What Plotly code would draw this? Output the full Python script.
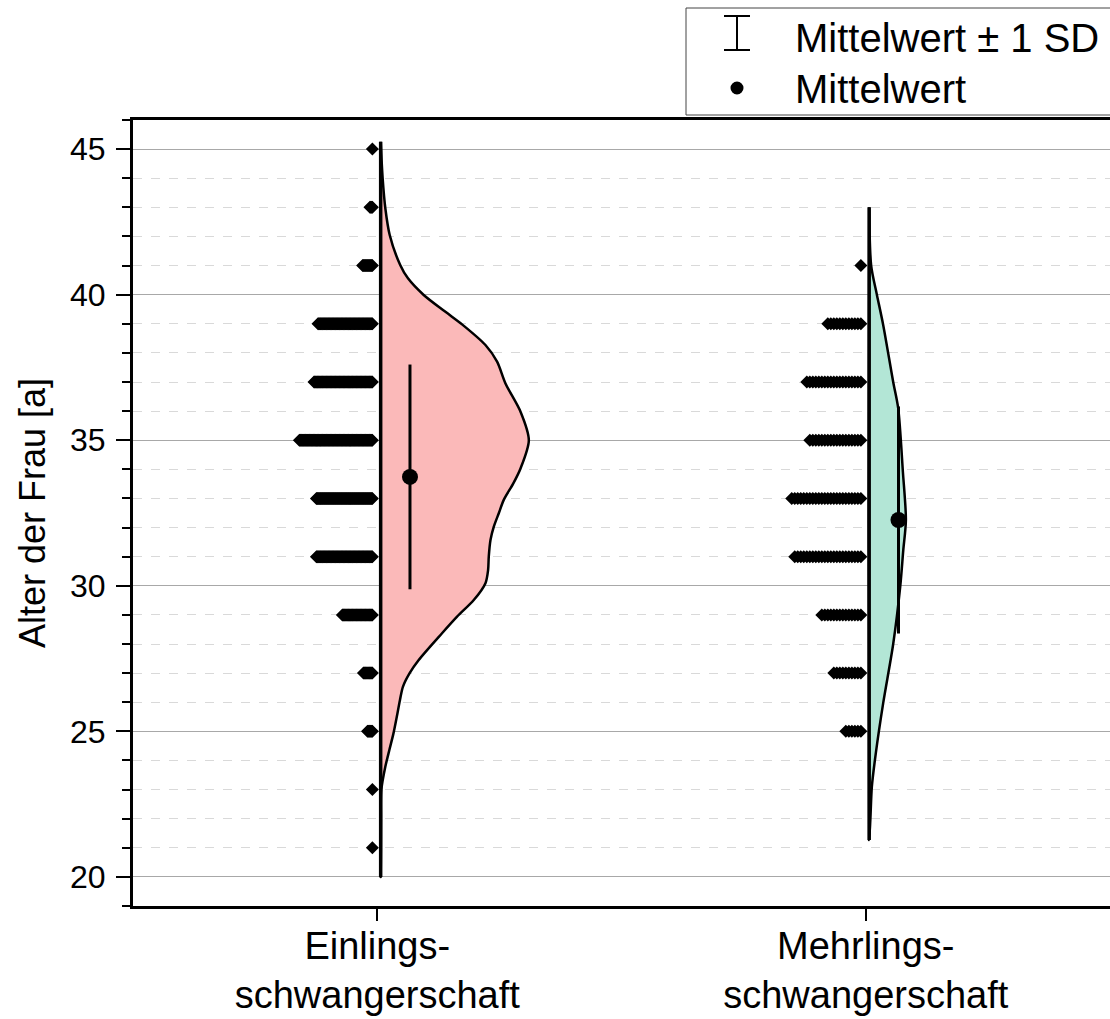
import plotly.graph_objects as go

# ---------------- data ----------------
categories = ["Einlings-<br>schwangerschaft", "Mehrlings-<br>schwangerschaft"]
cat_pos = [0, 1]

dot_ages = [21, 23, 25, 27, 29, 31, 33, 35, 37, 39, 41, 43, 45]
einlings_counts = [1, 1, 7, 12, 38, 70, 70, 91, 73, 68, 13, 4, 1]
mehrlings_counts = [0, 0, 6, 10, 14, 23, 24, 18, 19, 12, 1, 0, 0]

means = [33.74, 32.26]
sds = [3.86, 3.90]

# half-violin density profiles (half width in category units)
einlings_kde_age = [20.0, 21.0, 22.0, 22.99, 23.79, 24.36, 24.93, 25.5, 26.08, 26.53, 26.99,
                    27.45, 28.37, 28.94, 29.51, 30.09, 30.54, 31.0, 31.57, 32.03, 32.49,
                    32.95, 33.5, 34.03, 35.0, 35.98, 36.95, 37.7, 38.27, 38.98, 39.41,
                    39.99, 40.56, 41.02, 42.05, 42.96, 43.99, 45.25]
einlings_kde_w = [0.0, 0.0006, 0.0008, 0.0014, 0.0096, 0.0178, 0.0262, 0.0330, 0.0395, 0.0455,
                  0.0590, 0.0779, 0.1256, 0.1564, 0.1906, 0.2145, 0.2199, 0.2213, 0.2248,
                  0.2316, 0.2418, 0.2520, 0.2710, 0.2863, 0.3033, 0.2863, 0.2555, 0.2383,
                  0.2145, 0.1666, 0.1326, 0.0881, 0.0559, 0.0400, 0.0185, 0.0096, 0.0041, 0.0]

mehrlings_kde_age = [21.27, 22.0, 23.1, 24.26, 25.97, 28.0, 29.96, 31.2, 32.26, 33.9,
                     36.1, 37.0, 38.96, 40.0, 41.0, 43.0]
mehrlings_kde_w = [0.0, 0.0025, 0.0055, 0.0137, 0.0287, 0.0492, 0.0635, 0.0697, 0.0752,
                   0.0691, 0.0594, 0.0492, 0.0287, 0.0158, 0.0041, 0.0]

fill_colors = ["#FBB9B9", "#B3E6D6"]

# ---------------- style constants ----------------
FONT = "Liberation Sans, Arial, sans-serif"
violin_base_off = 0.007
dot_start_off = -0.010
dot_steps = [0.00166, 0.00615]
err_off = 0.067

fig = go.Figure()

# half violins
for c, ages, ws, col in [(cat_pos[0], einlings_kde_age, einlings_kde_w, fill_colors[0]),
                         (cat_pos[1], mehrlings_kde_age, mehrlings_kde_w, fill_colors[1])]:
    base = c + violin_base_off
    xs = [base + w for w in ws] + [base, base]
    ys = list(ages) + [ages[-1], ages[0]]
    fig.add_trace(go.Scatter(
        x=xs, y=ys, mode="lines", fill="toself", fillcolor=col,
        line=dict(color="black", width=2.5, shape="spline", smoothing=0.8),
        hoverinfo="skip", showlegend=False))
    fig.add_trace(go.Scatter(
        x=[base, base], y=[ages[0], ages[-1]], mode="lines",
        line=dict(color="black", width=3.5), hoverinfo="skip", showlegend=False))

# stacked dot rows
for c, counts, step in [(cat_pos[0], einlings_counts, dot_steps[0]),
                        (cat_pos[1], mehrlings_counts, dot_steps[1])]:
    dx, dy = [], []
    for age, n in zip(dot_ages, counts):
        for k in range(n):
            dx.append(c + dot_start_off - k * step)
            dy.append(age)
    fig.add_trace(go.Scatter(
        x=dx, y=dy, mode="markers",
        marker=dict(symbol="diamond", size=10, color="black", line=dict(width=0)),
        hoverinfo="skip", showlegend=False))

# mean +/- SD
fig.add_trace(go.Scatter(
    x=[c + err_off for c in cat_pos], y=means, mode="markers",
    marker=dict(symbol="circle", size=16, color="black"),
    error_y=dict(type="data", array=sds, visible=True, color="black", thickness=3, width=0),
    hoverinfo="skip", showlegend=False))

# ---------------- layout ----------------
W, H = 1110, 1019
L, R, T, B = 133, 0, 120, 113
pw, ph = W - L - R, H - T - B


def px(xp):
    return (xp - L) / pw


def py(yp):
    return (H - B - yp) / ph


shapes = [
    dict(type="rect", xref="paper", yref="paper", x0=px(686), x1=px(1115), y0=py(115), y1=py(8),
         line=dict(color="#444444", width=1), fillcolor="white", layer="above"),
    dict(type="line", xref="paper", yref="paper", x0=px(737), x1=px(737), y0=py(50), y1=py(16),
         line=dict(color="black", width=2)),
    dict(type="line", xref="paper", yref="paper", x0=px(724), x1=px(750), y0=py(16), y1=py(16),
         line=dict(color="black", width=2)),
    dict(type="line", xref="paper", yref="paper", x0=px(724), x1=px(750), y0=py(50), y1=py(50),
         line=dict(color="black", width=2)),
    dict(type="circle", xref="paper", yref="paper", x0=px(730.5), x1=px(743.5), y0=py(94.5), y1=py(81.5),
         fillcolor="black", line=dict(color="black", width=0)),
]

annotations = [
    dict(text="Mittelwert ± 1 SD", xref="paper", yref="paper", x=px(793), y=py(38),
         xanchor="left", yanchor="middle", showarrow=False,
         font=dict(family=FONT, size=40, color="black")),
    dict(text="Mittelwert", xref="paper", yref="paper", x=px(793), y=py(89),
         xanchor="left", yanchor="middle", showarrow=False,
         font=dict(family=FONT, size=40, color="black")),
]

fig.update_layout(
    width=W, height=H,
    margin=dict(l=L, r=R, t=T, b=B, pad=0, autoexpand=False),
    paper_bgcolor="white", plot_bgcolor="white",
    font=dict(family=FONT, color="black"),
    showlegend=False,
    shapes=shapes, annotations=annotations,
    xaxis=dict(
        range=[-0.5, 1.5], tickmode="array", tickvals=cat_pos, ticktext=categories,
        showgrid=False, zeroline=False, automargin=False,
        showline=True, linecolor="black", linewidth=3, mirror=True,
        ticks="outside", ticklen=12, tickwidth=2, tickcolor="black",
        tickfont=dict(family=FONT, size=38, color="black"),
        ticklabelstandoff=-8,
    ),
    yaxis=dict(
        range=[19, 46], tickmode="linear", tick0=20, dtick=5,
        showgrid=True, gridcolor="#A8A8A8", gridwidth=1, zeroline=False, automargin=False,
        showline=True, linecolor="black", linewidth=3, mirror=False,
        ticks="outside", ticklen=14, tickwidth=2, tickcolor="black",
        tickfont=dict(family=FONT, size=32, color="black"),
        ticklabelstandoff=4,
        title=dict(text="Alter der Frau [a]", font=dict(family=FONT, size=36, color="black"),
                   standoff=14),
        minor=dict(dtick=1, tick0=20, showgrid=True, gridcolor="#D9D9D9", griddash="dash",
                   gridwidth=1, ticks="outside", ticklen=8, tickwidth=2, tickcolor="black"),
    ),
)

fig.write_html("out.html")
